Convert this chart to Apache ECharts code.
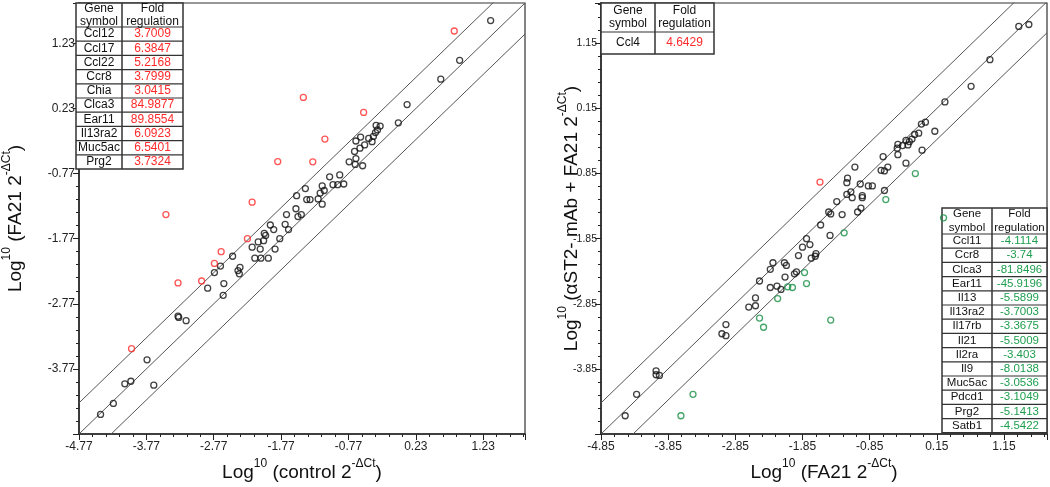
<!DOCTYPE html>
<html>
<head>
<meta charset="utf-8">
<script src="https://cdn.jsdelivr.net/npm/echarts@6/dist/echarts.min.js"></script>
<style>
html,body{margin:0;padding:0;background:#fff;}
#c{width:1050px;height:487px;}
</style>
</head>
<body>
<div id="c"></div>
<script>
// ---------- Left panel data (control vs FA21) ----------
const L_BLACK_X = [1.34,0.88,0.60,0.10,-0.03,-0.36,-0.30,-0.34,-0.37,-0.40,-0.47,-0.42,-0.59,-0.66,-0.53,-0.60,-0.68,-0.76,-0.66,-0.67,-0.56,-1.05,-0.90,-1.00,-0.93,-0.84,-1.16,-1.13,-1.19,-1.22,-1.16,-1.41,-1.54,-1.39,-1.34,-1.55,-1.69,-1.52,-1.47,-1.93,-1.88,-1.71,-1.66,-2.02,-2.00,-2.03,-2.11,-1.79,-2.20,-2.08,-1.86,-2.16,-2.07,-1.96,-2.49,-2.67,-2.76,-2.38,-2.41,-2.39,-2.86,-2.62,-2.63,-3.30,-3.29,-3.18,-3.76,-4.00,-4.09,-3.66,-4.26,-4.45];
const L_BLACK_Y = [1.58,0.97,0.68,0.29,0.01,-0.03,-0.04,-0.10,-0.14,-0.20,-0.23,-0.28,-0.21,-0.27,-0.33,-0.38,-0.43,-0.59,-0.54,-0.63,-0.65,-0.82,-0.79,-0.94,-0.94,-0.93,-0.96,-1.03,-1.07,-1.16,-1.24,-1.00,-1.11,-1.17,-1.17,-1.31,-1.40,-1.43,-1.40,-1.56,-1.63,-1.55,-1.63,-1.69,-1.72,-1.80,-1.82,-1.77,-1.90,-1.93,-1.93,-2.07,-2.07,-2.07,-2.04,-2.19,-2.29,-2.21,-2.26,-2.31,-2.53,-2.46,-2.64,-2.96,-2.98,-3.03,-3.63,-3.96,-4.00,-4.02,-4.30,-4.47];
const L_RED_X = [0.80,-0.545,-1.12,-1.44,-1.82,-1.30,-2.20,-3.48,-2.27,-2.66,-2.76,-3.30,-2.95,-3.99];
const L_RED_Y = [1.42,0.17,-0.24,0.40,-0.585,-0.59,-1.21,-1.40,-1.77,-1.97,-2.15,-2.45,-2.42,-3.46];
const L_GENES = ["Ccl12","Ccl17","Ccl22","Ccr8","Chia","Clca3","Ear11","Il13ra2","Muc5ac","Prg2"];
const L_FOLDS = ["3.7009","6.3847","5.2168","3.7999","3.0415","84.9877","89.8554","6.0923","6.5401","3.7324"];
const L_TICK_LABELS_X = ["-4.77","-3.77","-2.77","-1.77","-0.77","0.23","1.23"];
const L_TICK_LABELS_Y = ["","-3.77","-2.77","-1.77","-0.77","0.23","1.23"];

// ---------- Right panel data (FA21 vs aST2 mAb + FA21) ----------
const R_BLACK_X = [-4.49,-4.32,-4.03,-4.03,-3.98,-3.05,-2.99,-2.99,-2.65,-2.55,-2.55,-2.49,-2.33,-2.23,-2.17,-2.33,-2.29,-2.12,-2.09,-2.11,-1.97,-1.94,-1.91,-1.85,-1.79,-1.74,-1.72,-1.66,-1.65,-1.58,-1.44,-1.46,-1.43,-1.26,-1.34,-1.19,-1.13,-1.11,-1.19,-1.18,-1.07,-0.99,-0.96,-0.96,-1.03,-0.98,-0.87,-0.81,-0.63,-0.65,-0.68,-0.63,-0.58,-0.43,-0.31,-0.07,1.52,1.37,0.94,0.66,0.27,0.12,-0.02,-0.08,-0.12,-0.18,-0.22,-0.26,-0.31,-0.28,-0.36,-0.43,-0.44];
const R_BLACK_Y = [-4.57,-4.24,-3.88,-3.94,-3.95,-3.31,-3.34,-3.17,-2.90,-2.88,-2.76,-2.50,-2.60,-2.58,-2.63,-2.32,-2.22,-2.22,-2.26,-2.44,-2.39,-2.36,-2.11,-1.98,-1.85,-1.94,-2.15,-2.12,-2.08,-1.64,-1.80,-1.44,-1.47,-1.48,-1.28,-1.17,-1.13,-1.22,-0.99,-0.92,-0.75,-1.01,-1.19,-1.22,-1.44,-1.38,-1.04,-1.04,-1.11,-0.59,-0.80,-0.81,-0.75,-0.56,-0.69,-0.49,1.44,1.41,0.90,0.49,0.25,-0.20,-0.06,-0.09,-0.23,-0.25,-0.32,-0.36,-0.34,-0.41,-0.42,-0.40,-0.46];
const R_RED_X = [-1.59];
const R_RED_Y = [-0.98];
const R_GREEN_X = [-0.17,-0.61,-1.23,-1.82,-1.79,-2.07,-2.00,-2.22,-2.49,-2.43,-1.43,-3.48,-3.66,0.25];
const R_GREEN_Y = [-0.85,-1.25,-1.76,-2.37,-2.54,-2.59,-2.60,-2.77,-3.07,-3.21,-3.10,-4.24,-4.57,-1.53];
const R_UP_GENES = ["Ccl4"];
const R_UP_FOLDS = ["4.6429"];
const R_DOWN_GENES = ["Ccl11","Ccr8","Clca3","Ear11","Il13","Il13ra2","Il17rb","Il21","Il2ra","Il9","Muc5ac","Pdcd1","Prg2","Satb1"];
const R_DOWN_FOLDS = ["-4.1114","-3.74","-81.8496","-45.9196","-5.5899","-3.7003","-3.3675","-5.5009","-3.403","-8.0138","-3.0536","-3.1049","-5.1413","-4.5422"];
const R_TICK_LABELS_X = ["-4.85","-3.85","-2.85","-1.85","-0.85","0.15","1.15"];
const R_TICK_LABELS_Y = ["","-3.85","-2.85","-1.85","-0.85","0.15","1.15"];

// axis extents (log10 units)
const L_XMIN = -4.77, L_XMAX = 1.85, L_YMIN = -4.77, L_YMAX = 1.85;
const R_XMIN = -4.85, R_XMAX = 1.79, R_YMIN = -4.85, R_YMAX = 1.77;
const FOLD_LINE = Math.log10(3); // 3-fold boundary lines

const FONT = "'Liberation Sans', Arial, Helvetica, sans-serif";
const RED = '#ff2a2a', GREEN = '#1e9e4e', GREEN_PT = '#178f44', BLACK = '#111';

const chart = echarts.init(document.getElementById('c'), null, {renderer: 'canvas'});

function toPts(xs, ys, xmin, ymin) { return xs.map((x, i) => [x - xmin, ys[i] - ymin]); }

function nameRich(parts) {
  return parts.map(p => p[1] ? '{s|' + p[0] + '}' : '{t|' + p[0] + '}').join('');
}
const nameStyle = {
  fontFamily: FONT, fontSize: 19, color: '#111',
  rich: {
    t: {fontFamily: FONT, fontSize: 19, color: '#111', verticalAlign: 'bottom', lineHeight: 24},
    s: {fontFamily: FONT, fontSize: 12, color: '#111', verticalAlign: 'top', lineHeight: 24}
  }
};

function makeAxis(gridIndex, min, max, labels, name, gap, isY, labelSize) {
  return {
    type: 'value', gridIndex: gridIndex, min: 0, max: +(max - min).toFixed(4), interval: 1,
    name: name, nameLocation: 'middle', nameGap: gap, nameTextStyle: nameStyle,
    nameMoveOverlap: !isY,
    axisLine: {show: true, onZero: false, lineStyle: {color: '#222', width: 1.5}},
    axisTick: {show: true, length: 6, lineStyle: {color: '#222', width: 1}},
    minorTick: {show: true, splitNumber: 5, length: 3, lineStyle: {color: '#222', width: 1}},
    splitLine: {show: false}, minorSplitLine: {show: false},
    axisLabel: {
      fontFamily: FONT, fontSize: labelSize, color: '#222', margin: isY ? 4 : 7,
      showMaxLabel: false,
      formatter: function (v) {
        const r = Math.round(v);
        if (Math.abs(v - r) > 1e-6) return '';
        return labels[r] !== undefined ? labels[r] : '';
      }
    }
  };
}

function diagLine(xi, yi, xmin, xmax, ymin, c) {
  return {
    type: 'line', xAxisIndex: xi, yAxisIndex: yi, silent: true, symbol: 'none', clip: true,
    lineStyle: {color: '#555', width: 1}, z: 1,
    data: [[0, xmin - ymin + c], [xmax - xmin, xmax - ymin + c]]
  };
}

function scatter(xi, yi, pts, color) {
  return {
    type: 'scatter', xAxisIndex: xi, yAxisIndex: yi, data: pts, symbol: 'circle', symbolSize: 6,
    itemStyle: {color: 'rgba(0,0,0,0)', borderColor: color, borderWidth: 1.3}, z: 3, silent: true
  };
}

function makeTable(x0, y0, w1, w2, hh, rh, genes, folds, foldColor, fs, headLH) {
  const els = [];
  const stroke = '#333';
  const n = genes.length;
  const totalH = hh + rh * n;
  els.push({type: 'rect', shape: {x: x0, y: y0, width: w1 + w2, height: totalH}, style: {fill: '#fff', stroke: stroke, lineWidth: 1.5}, z: 2});
  els.push({type: 'line', shape: {x1: x0 + w1, y1: y0, x2: x0 + w1, y2: y0 + totalH}, style: {stroke: stroke, lineWidth: 1.5}, z: 4});
  for (let i = 0; i < n; i++) {
    const y = y0 + hh + rh * i;
    els.push({type: 'line', shape: {x1: x0, y1: y, x2: x0 + w1 + w2, y2: y}, style: {stroke: stroke, lineWidth: 1.2}, z: 4});
  }
  const txt = (t, cx, cy, col) => ({type: 'text', z: 5, style: {text: t, x: cx, y: cy, fill: col, font: fs + 'px ' + FONT, align: 'center', verticalAlign: 'middle', textAlign: 'center', textVerticalAlign: 'middle', lineHeight: headLH}});
  els.push(txt('Gene\nsymbol', x0 + w1 / 2, y0 + hh / 2, BLACK));
  els.push(txt('Fold\nregulation', x0 + w1 + w2 / 2, y0 + hh / 2, BLACK));
  for (let i = 0; i < n; i++) {
    const cy = y0 + hh + rh * i + rh / 2;
    els.push(txt(genes[i], x0 + w1 / 2, cy, BLACK));
    els.push(txt(folds[i], x0 + w1 + w2 / 2, cy, foldColor));
  }
  return els;
}

const option = {
  animation: false,
  backgroundColor: '#fff',
  grid: [
    {left: 76, top: 3, width: 449, height: 432, show: true, borderColor: '#333', borderWidth: 1.2, backgroundColor: 'rgba(0,0,0,0)'},
    {left: 601, top: 3, width: 446, height: 432, show: true, borderColor: '#333', borderWidth: 1.2, backgroundColor: 'rgba(0,0,0,0)'}
  ],
  xAxis: [
    makeAxis(0, L_XMIN, L_XMAX, L_TICK_LABELS_X, nameRich([['Log'], ['10', 1], [' (control 2'], ['-ΔCt', 1], [')']]), 24, false, 12),
    makeAxis(1, R_XMIN, R_XMAX, R_TICK_LABELS_X, nameRich([['Log'], ['10', 1], [' (FA21 2'], ['-ΔCt', 1], [')']]), 24, false, 12)
  ],
  yAxis: [
    makeAxis(0, L_YMIN, L_YMAX, L_TICK_LABELS_Y, nameRich([['Log'], ['10', 1], [' (FA21 2'], ['-ΔCt', 1], [')']]), 54, true, 12),
    makeAxis(1, R_YMIN, R_YMAX, R_TICK_LABELS_Y, nameRich([['Log'], ['10', 1], [' (αST2- mAb + FA21 2'], ['-ΔCt', 1], [')']]), 20, true, 10.5)
  ],
  series: [
    diagLine(0, 0, L_XMIN, L_XMAX, L_YMIN, FOLD_LINE),
    diagLine(0, 0, L_XMIN, L_XMAX, L_YMIN, 0),
    diagLine(0, 0, L_XMIN, L_XMAX, L_YMIN, -FOLD_LINE),
    diagLine(1, 1, R_XMIN, R_XMAX, R_YMIN, FOLD_LINE),
    diagLine(1, 1, R_XMIN, R_XMAX, R_YMIN, 0),
    diagLine(1, 1, R_XMIN, R_XMAX, R_YMIN, -FOLD_LINE),
    scatter(0, 0, toPts(L_BLACK_X, L_BLACK_Y, L_XMIN, L_YMIN), BLACK),
    scatter(0, 0, toPts(L_RED_X, L_RED_Y, L_XMIN, L_YMIN), RED),
    scatter(1, 1, toPts(R_BLACK_X, R_BLACK_Y, R_XMIN, R_YMIN), BLACK),
    scatter(1, 1, toPts(R_RED_X, R_RED_Y, R_XMIN, R_YMIN), RED),
    scatter(1, 1, toPts(R_GREEN_X, R_GREEN_Y, R_XMIN, R_YMIN), GREEN_PT)
  ],
  graphic: [].concat(
    makeTable(76, 3, 46, 61, 24, 14.2, L_GENES, L_FOLDS, RED, 12, 13),
    makeTable(601, 3, 54, 59, 29, 22, R_UP_GENES, R_UP_FOLDS, RED, 12, 13),
    makeTable(942, 208, 50, 55, 26, 14.2, R_DOWN_GENES, R_DOWN_FOLDS, GREEN, 11.5, 14)
  )
};
chart.setOption(option);
</script>
</body>
</html>
